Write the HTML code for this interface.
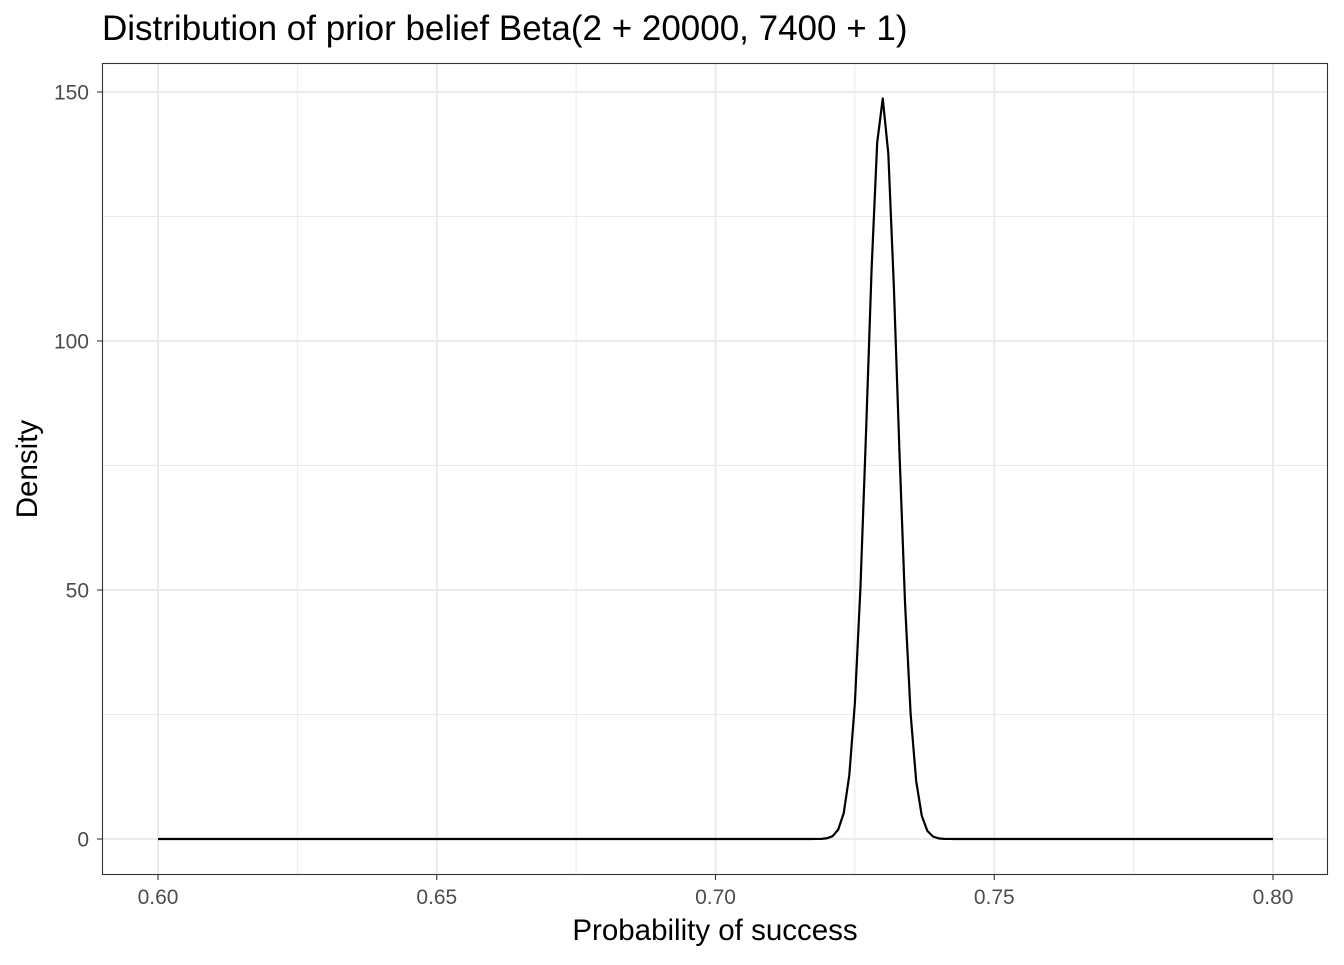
<!DOCTYPE html>
<html><head><meta charset="utf-8"><style>
body{margin:0;background:#fff;}
svg text{font-family:"Liberation Sans",Arial,sans-serif;}
</style></head><body>
<svg id="chart" width="1344" height="960" xmlns="http://www.w3.org/2000/svg">
<text x="102" y="40" font-size="35" fill="#000">Distribution of prior belief Beta(2 + 20000, 7400 + 1)</text>
<g id="grid"></g>
<g id="line"></g>
<rect x="102.5" y="63.5" width="1225" height="811" fill="none" stroke="#333" stroke-width="1.1"/>
<g id="axes"></g>
<text x="715" y="940" font-size="29.5" text-anchor="middle" fill="#000">Probability of success</text>
<text transform="translate(37,469) rotate(-90)" font-size="29.5" text-anchor="middle" fill="#000">Density</text>
</svg>
<script>
const xValues=[0.600,0.717,0.718,0.719,0.720,0.721,0.722,0.723,0.724,0.725,0.726,0.727,0.728,0.729,0.730,0.731,0.732,0.733,0.734,0.735,0.736,0.737,0.738,0.739,0.740,0.741,0.742,0.743,0.800];
const densities=[0,0,0.01,0.03,0.15,0.57,1.86,5.2,12.8,27.3,50.5,81.5,114.5,139.8,148.7,137.6,110.7,77.6,47.3,25.1,11.6,4.65,1.63,0.5,0.13,0.03,0.01,0,0];
const xTicks=[0.60,0.65,0.70,0.75,0.80];
const xTickLabels=["0.60","0.65","0.70","0.75","0.80"];
const xMinor=[0.625,0.675,0.725,0.775];
const yTicks=[0,50,100,150];
const yTickLabels=["0","50","100","150"];
const yMinor=[25,75,125];
const NS="http://www.w3.org/2000/svg";
const L=102,R=1328,T=63,B=875;
function sx(v){return 158+(v-0.6)/0.2*(1273-158);}
function sy(v){return 839-v/150*(839-92);}
function mk(tag,attrs,parent){const e=document.createElementNS(NS,tag);for(const k in attrs)e.setAttribute(k,attrs[k]);parent.appendChild(e);return e;}
const grid=document.getElementById('grid'),axes=document.getElementById('axes'),lineG=document.getElementById('line');
mk('rect',{x:L,y:T,width:R-L,height:B-T,fill:'#fff'},grid);
xMinor.forEach(v=>{const e=mk('line',{x1:sx(v),x2:sx(v),y1:T,y2:B,stroke:'#ebebeb','stroke-width':1},grid);

});
yMinor.forEach(v=>{const e=mk('line',{x1:L,x2:R,y1:sy(v),y2:sy(v),stroke:'#ebebeb','stroke-width':1},grid);

});
xTicks.forEach((v,i)=>{const g=mk('line',{x1:sx(v),x2:sx(v),y1:T,y2:B,stroke:'#ebebeb','stroke-width':2},grid);


const t=mk('line',{x1:sx(v),x2:sx(v),y1:B,y2:B+5,stroke:'#333','stroke-width':1.1},axes);


const l=mk('text',{x:sx(v),y:B+29,'font-size':21,'text-anchor':'middle',fill:'#4d4d4d'},axes);l.textContent=xTickLabels[i];

});
yTicks.forEach((v,i)=>{const g=mk('line',{x1:L,x2:R,y1:sy(v),y2:sy(v),stroke:'#ebebeb','stroke-width':2},grid);


const t=mk('line',{x1:L-5,x2:L,y1:sy(v),y2:sy(v),stroke:'#333','stroke-width':1.1},axes);


const l=mk('text',{x:L-13,y:sy(v)+7.5,'font-size':21,'text-anchor':'end',fill:'#4d4d4d'},axes);l.textContent=yTickLabels[i];

});
const d=xValues.map((x,i)=>(i?'L':'M')+sx(x).toFixed(2)+','+sy(densities[i]).toFixed(2)).join(' ');
const p=mk('path',{d:d,fill:'none',stroke:'#000','stroke-width':2.2,'stroke-linejoin':'round'},lineG);


</script>
</body></html>
